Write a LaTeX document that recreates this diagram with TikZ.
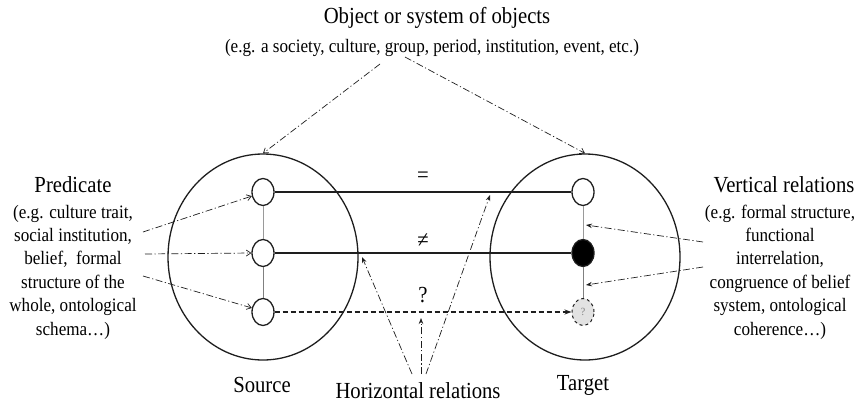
\documentclass[tikz,border=0pt]{standalone}
\usepackage{fontspec}
\setmainfont{Liberation Serif}[FakeStretch=0.9]
\usetikzlibrary{arrows.meta,shapes.geometric}
\definecolor{ringblack}{HTML}{1E1E1E}
\definecolor{linkgray}{HTML}{9A9A9A}
\definecolor{unknowngray}{HTML}{E2E2E2}

\begin{document}
\begin{tikzpicture}[x=1pt, y=-1pt, line width=1.2pt, >=Stealth,
  ring/.style={ellipse, draw=ringblack, line width=1.3pt, minimum width=190pt, minimum height=206pt, inner sep=0pt},
  elem/.style={ellipse, draw=ringblack, line width=1.3pt, fill=white, minimum width=22pt, minimum height=27pt, inner sep=0pt},
  pointer/.style={line width=0.7pt, ringblack, dash pattern=on 7pt off 2.5pt on 1.2pt off 2.5pt, -{Straight Barb[length=4.5pt,width=6pt]}},
  spike/.style={line width=0.7pt, ringblack, dash pattern=on 7pt off 2.5pt on 1.2pt off 2.5pt, -{Stealth[length=6pt,width=4.5pt]}},
  heading/.style={font=\fontsize{23}{27}\selectfont, inner sep=0pt},
  remark/.style={align=center, font=\fontsize{19}{23.4}\selectfont, inner sep=0pt}]
  \useasboundingbox (0,0) rectangle (859,405);

  % source and target systems
  \node[ring] (src) at (263,257) {};
  \node[ring] (tgt) at (585,257) {};

  \node[elem] (s1) at (263,192) {};
  \node[elem] (s2) at (263,253) {};
  \node[elem] (s3) at (263,312) {};
  \node[elem] (t1) at (583,192) {};
  \node[elem, fill=black] (t2) at (583,253) {};
  \node[elem, dashed, line width=1pt, fill=unknowngray, text=gray,
        font=\fontsize{11}{12}\selectfont] (t3) at (583,312) {?};

  \draw[linkgray, line width=1pt] (s1) -- (s2);
  \draw[gray, line width=1pt] (s2) -- (s3);
  \draw[linkgray, line width=1pt] (t1) -- (t2);
  \draw[gray, line width=1pt] (t2) -- (t3);

  \draw[ringblack] (s1) -- (t1);
  \draw[ringblack] (s2) -- (t2);
  \draw[ringblack, dash pattern=on 5pt off 3pt, line width=1.1pt, -{Stealth[length=7pt,width=5pt]}] (s3) -- (t3);

  \node[heading] (eq) at (423,177) {=};
  \node[heading] (neq) at (423,241) {≠};
  \node[heading] (unk) at (423,295) {?};

  % labels
  \node[heading] (obj) at (437,18) {Object or system of objects};
  \node[remark] (objex) at (432,48) {(e.g. a society, culture, group, period, institution, event, etc.)};
  \node[heading] (pred) at (73,185) {Predicate};
  \node[remark] (predex) at (73,272) {(e.g. culture trait,\\ social institution,\\ belief,\ \ formal\\ structure of the\\ whole, ontological\\ schema…)};
  \node[heading] (vert) at (784,185) {Vertical relations};
  \node[remark] (vertex) at (780,272) {(e.g. formal structure,\\ functional\\ interrelation,\\ congruence of belief\\ system, ontological\\ coherence…)};
  \node[heading] (srclab) at (262,385) {Source};
  \node[heading] (tgtlab) at (583,385) {Target};
  \node[heading] (hrel) at (418,391) {Horizontal relations};

  % pointers
  \coordinate (o1) at (380,64);
  \coordinate (o2) at (405,57);
  \draw[pointer] (o1) -- (src.north);
  \draw[pointer] (o2) -- (tgt.north);

  \coordinate (p1) at (143,232);
  \coordinate (p2) at (145,254);
  \coordinate (p3) at (143,276);
  \draw[pointer] (p1) -- (s1.200);
  \draw[pointer] (p2) -- (s2.west);
  \draw[pointer] (p3) -- (s3.160);

  \coordinate (v1) at (703,242);
  \coordinate (v2) at (703,267);
  \coordinate (vt1) at (586,225);
  \coordinate (vt2) at (586,285);
  \draw[spike] (v1) -- (vt1);
  \draw[spike] (v2) -- (vt2);

  \coordinate (h1) at (412,374);
  \coordinate (h2) at (421,374);
  \coordinate (h3) at (426,374);
  \coordinate (ht1) at (362,257);
  \coordinate (ht2) at (421,318);
  \coordinate (ht3) at (490,195);
  \draw[spike] (h1) -- (ht1);
  \draw[spike] (h2) -- (ht2);
  \draw[spike] (h3) -- (ht3);
\end{tikzpicture}
\end{document}
